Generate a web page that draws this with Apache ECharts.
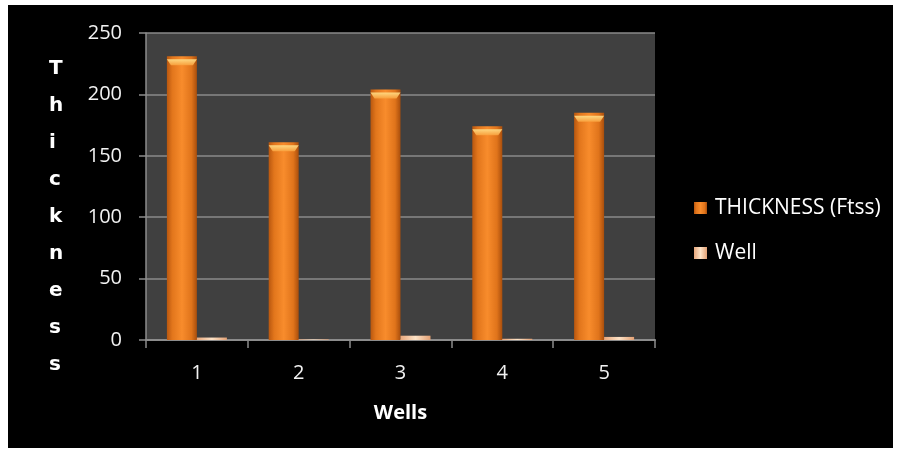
<!DOCTYPE html>
<html>
<head>
<meta charset="utf-8">
<script src="https://cdn.jsdelivr.net/npm/echarts@6/dist/echarts.min.js"></script>
<style>
  html, body { margin: 0; padding: 0; background: #ffffff; }
  #chart { position: absolute; left: 8px; top: 5px; width: 885px; height: 443px; }
</style>
</head>
<body>
<div id="chart"></div>
<script>
// Wells and their measured values
const wells = ['1', '2', '3', '4', '5'];
const thickness = [231, 161, 204, 174, 185];
const wellValues = [2, 0.5, 3.5, 1, 2.5];
const yTitle = 'Thickness';

const labelFont = '"Open Sans", "Noto Sans", sans-serif';

const chart = echarts.init(document.getElementById('chart'), null, { renderer: 'canvas' });

const orangeBody = new echarts.graphic.LinearGradient(0, 0, 1, 0, [
  { offset: 0, color: '#b9570f' },
  { offset: 0.18, color: '#e2761c' },
  { offset: 0.5, color: '#f88c2c' },
  { offset: 0.82, color: '#e0741b' },
  { offset: 1, color: '#a94e0c' }
]);
const peachBody = new echarts.graphic.LinearGradient(0, 0, 1, 0, [
  { offset: 0, color: '#e7a77c' },
  { offset: 0.5, color: '#fde2c6' },
  { offset: 1, color: '#e2a074' }
]);
const capFill = new echarts.graphic.LinearGradient(0, 0, 0, 1, [
  { offset: 0, color: '#ffe08a' },
  { offset: 1, color: '#f9a23e' }
]);

chart.setOption({
  backgroundColor: '#000000',
  animation: false,
  grid: {
    left: 138, top: 28, width: 509, height: 307,
    show: true, backgroundColor: '#404040', borderWidth: 0
  },
  legend: {
    data: ['THICKNESS (Ftss)', 'Well'],
    orient: 'vertical',
    left: 686, top: 191,
    padding: 0,
    itemWidth: 13, itemHeight: 12, itemGap: 21,
    icon: 'rect',
    textStyle: { color: '#ffffff', fontFamily: labelFont, fontSize: 21, lineHeight: 24, padding: [0, 0, 0, 3] }
  },
  xAxis: {
    type: 'category',
    data: wells,
    name: 'Wells',
    nameLocation: 'middle',
    nameGap: 63,
    nameTextStyle: { color: '#ffffff', fontFamily: labelFont, fontSize: 20, fontWeight: 'bold' },
    axisLine: { lineStyle: { color: '#8c8c8c', width: 2 } },
    axisTick: { show: true, length: 8, lineStyle: { color: '#8c8c8c', width: 1.5 } },
    axisLabel: { color: '#f2f2f2', fontFamily: labelFont, fontSize: 20, margin: 23 }
  },
  yAxis: {
    type: 'value',
    min: 0, max: 250, interval: 50,
    axisLine: { show: true, lineStyle: { color: '#8c8c8c', width: 1.5 } },
    axisTick: { show: true, length: 7, lineStyle: { color: '#8c8c8c', width: 1.5 } },
    axisLabel: { color: '#f2f2f2', fontFamily: labelFont, fontSize: 20, margin: 24 },
    splitLine: { lineStyle: { color: '#8a8a8a', width: 1.5 } }
  },
  graphic: [{
    type: 'text',
    left: 41, top: 45,
    style: {
      text: yTitle.split('').join('\n'),
      fill: '#ffffff',
      font: '900 20px "DejaVu Sans", sans-serif',
      lineHeight: 37,
      align: 'center'
    }
  }],
  series: [
    {
      name: 'THICKNESS (Ftss)',
      type: 'bar',
      data: thickness,
      barWidth: 30,
      barGap: '0%',
      itemStyle: { color: orangeBody },
      z: 2
    },
    {
      name: 'Well',
      type: 'bar',
      data: wellValues,
      barWidth: 30,
      itemStyle: { color: peachBody },
      z: 2
    },
    {
      // bevelled top face of each thickness column
      name: 'cap',
      type: 'pictorialBar',
      data: thickness,
      symbol: 'path://M0,0 L30,0 L26,6 L4,6 Z',
      symbolSize: [30, 6],
      symbolPosition: 'end',
      symbolOffset: ['-50%', '50%'],
      itemStyle: { color: capFill, opacity: 0.9 },
      silent: true,
      z: 3
    }
  ]
});
</script>
</body>
</html>
